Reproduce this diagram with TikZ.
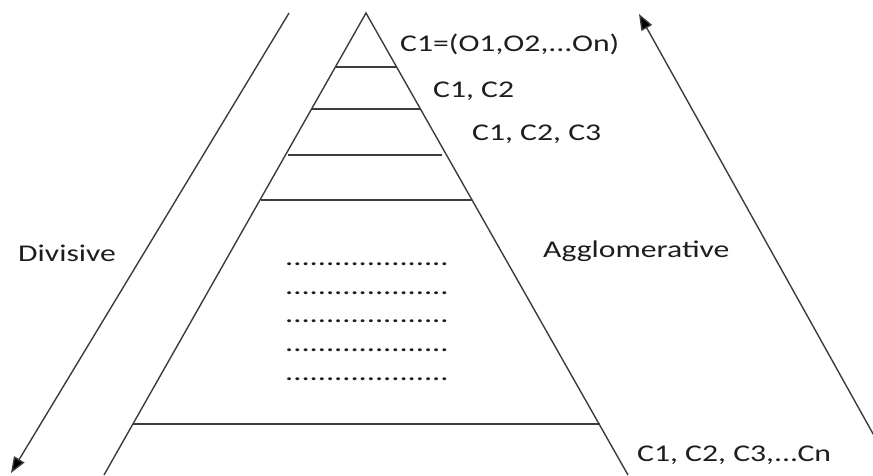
\documentclass[tikz,border=0pt]{standalone}
\usepackage{fontspec}
\setmainfont{Carlito}
\usetikzlibrary{arrows.meta}
\definecolor{txt}{HTML}{1E1E1E}
\definecolor{ln}{HTML}{3C3C3C}
\tikzset{
  lbl/.style={anchor=base west, inner sep=0pt, text=txt, font=\fontsize{24}{28}\selectfont},
  tri/.style={draw=ln, line width=1.4pt},
  arr/.style={draw=ln, line width=1.4pt, -{Triangle[length=16pt,width=12pt,fill=black]}}
}
\newcommand{\wide}[1]{\scalebox{1.32}[1]{#1}}
\begin{document}
\begin{tikzpicture}[x=1pt,y=-1pt]
\useasboundingbox (0,0) rectangle (873,475);
\clip (0,0) rectangle (873,475);
% pyramid
\coordinate (apex) at (366,13);
\coordinate (bl) at (104,475);
\coordinate (br) at (628,475);
\draw[tri] (bl) -- (apex) -- (br);
\coordinate (h1l) at (336,67);  \coordinate (h1r) at (397,67);
\coordinate (h2l) at (312,109); \coordinate (h2r) at (421,109);
\coordinate (h3l) at (288,155); \coordinate (h3r) at (442,155);
\coordinate (h4l) at (261,200); \coordinate (h4r) at (472,200);
\coordinate (h5l) at (133,424); \coordinate (h5r) at (600,424);
\draw[tri] (h1l) -- (h1r);
\draw[tri] (h2l) -- (h2r);
\draw[tri] (h3l) -- (h3r);
\draw[tri] (h4l) -- (h4r);
\draw[tri] (h5l) -- (h5r);
% arrows
\coordinate (dtop) at (289,13);
\coordinate (dtip) at (11,473);
\draw[arr] (dtop) -- (dtip);
\coordinate (abot) at (896,475);
\coordinate (atip) at (639,14);
\draw[arr] (abot) -- (atip);
% labels
\node[lbl] (c0) at (400,51) {\wide{C1=(O1,O2,...On)}};
\node[lbl] (c2) at (433,97) {\wide{C1, C2}};
\node[lbl] (c3) at (472,140) {\wide{C1, C2, C3}};
\node[lbl] (div) at (18,261) {\wide{Divisive}};
\node[lbl] (agg) at (543,257) {\wide{Agglomerative}};
\node[lbl] (cn) at (637,461) {\wide{C1, C2, C3,...Cn}};
% dotted rows
\foreach \i/\yy in {1/265,2/294,3/322,4/351,5/380}{
  \node[lbl] (dots\i) at (285,\yy) {\scalebox{1.35}[1]{....................}};
}
\end{tikzpicture}
\end{document}
